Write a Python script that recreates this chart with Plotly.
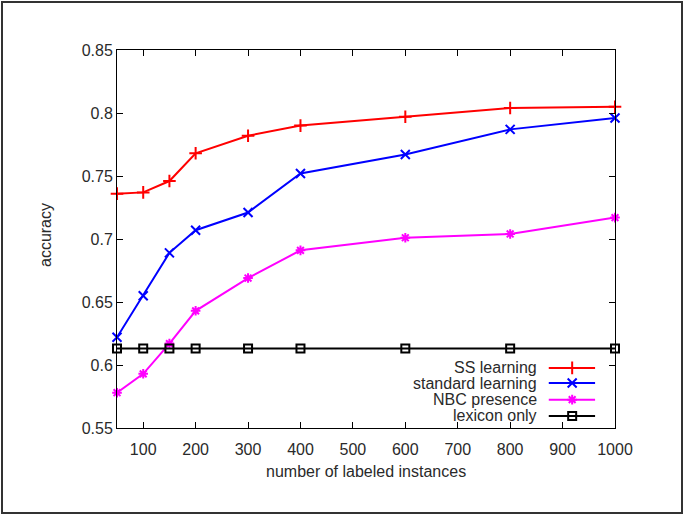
import plotly.graph_objects as go

# ---- data ----
n_labeled = [50, 100, 150, 200, 300, 400, 600, 800, 1000]
ss_learning = [0.736, 0.737, 0.746, 0.768, 0.782, 0.790, 0.797, 0.804, 0.805]
standard_learning = [0.622, 0.655, 0.689, 0.707, 0.721, 0.752, 0.767, 0.787, 0.796]
nbc_presence = [0.578, 0.593, 0.617, 0.643, 0.669, 0.691, 0.701, 0.704, 0.717]
lexicon_only = [0.613] * 9

series_names = ["SS learning", "standard learning", "NBC presence", "lexicon only"]
series_values = [ss_learning, standard_learning, nbc_presence, lexicon_only]
colors = ["#ff0000", "#0000ff", "#ff00ff", "#000000"]
symbols = ["cross-thin-open", "x-thin-open", "asterisk-open", "square-open"]
msizes = [9, 9, 8, 8]

x_ticks = [100, 200, 300, 400, 500, 600, 700, 800, 900, 1000]
y_ticks = [0.55, 0.6, 0.65, 0.7, 0.75, 0.8, 0.85]
y_ticktext = ["0.55", "0.6", "0.65", "0.7", "0.75", "0.8", "0.85"]

W, H = 685, 516
L, R, T, B = 117, 70, 50, 88
pw, ph = W - L - R, H - T - B

FONT = "Liberation Sans, Arial, sans-serif"
TXT = "#2a2a2a"

fig = go.Figure()
for name, vals, c, s, ms in zip(series_names, series_values, colors, symbols, msizes):
    fig.add_trace(go.Scatter(
        x=n_labeled, y=vals, mode="lines+markers", name=name,
        line=dict(color=c, width=2),
        marker=dict(symbol=s, size=ms, color=c, line=dict(color=c, width=2)),
        showlegend=False, cliponaxis=False,
    ))

# manual gnuplot-style legend (text left, sample right)
row_y = [0.159, 0.119, 0.075, 0.032]
tx, lx0, lx1, mx = 0.847, 0.867, 0.960, 0.914
annotations = []
shapes = []
for name, c, s, ms, ry in zip(series_names, colors, symbols, msizes, row_y):
    annotations.append(dict(x=tx, y=ry, xref="paper", yref="paper", text=name,
                            showarrow=False, xanchor="right", yanchor="middle",
                            font=dict(family=FONT, size=16, color=TXT)))
    fig.add_trace(go.Scatter(x=[lx0, lx1], y=[ry, ry], xaxis="x2", yaxis="y2",
                             mode="lines", line=dict(color=c, width=2),
                             showlegend=False, hoverinfo="skip"))
    fig.add_trace(go.Scatter(x=[mx], y=[ry], xaxis="x2", yaxis="y2",
                             mode="markers",
                             marker=dict(symbol=s, size=ms, color=c, line=dict(color=c, width=2)),
                             showlegend=False, hoverinfo="skip"))

# axis titles
annotations.append(dict(x=0.5, y=-(472 - (T + ph)) / ph, xref="paper", yref="paper",
                        text="number of labeled instances", showarrow=False,
                        xanchor="center", yanchor="middle",
                        font=dict(family=FONT, size=16, color=TXT)))
annotations.append(dict(x=(45 - L) / pw, y=(T + ph - 235) / ph, xref="paper", yref="paper",
                        text="accuracy", showarrow=False, textangle=-90,
                        xanchor="center", yanchor="middle",
                        font=dict(family=FONT, size=16, color=TXT)))

# outer frame of the image
shapes.append(dict(type="rect", xref="paper", yref="paper",
                   x0=(2 - L) / pw, x1=(W - 3 - L) / pw,
                   y0=-(H - 3 - T - ph) / ph, y1=1 + (T - 2) / ph,
                   line=dict(color="#333", width=2), fillcolor="rgba(0,0,0,0)"))

axis_font = dict(family=FONT, size=16, color=TXT)
fig.update_layout(
    width=W, height=H,
    margin=dict(l=L, r=R, t=T, b=B),
    paper_bgcolor="white", plot_bgcolor="white",
    showlegend=False,
    annotations=annotations,
    shapes=shapes,
    xaxis=dict(range=[50, 1000], tickvals=x_ticks, ticktext=[str(v) for v in x_ticks],
               ticks="inside", ticklen=6, tickcolor="black", mirror="ticks",
               showline=True, linecolor="black", linewidth=1, showgrid=False, zeroline=False,
               tickfont=axis_font, ticklabelstandoff=7),
    yaxis=dict(range=[0.55, 0.85], tickvals=y_ticks, ticktext=y_ticktext,
               ticks="inside", ticklen=6, tickcolor="black", mirror="ticks",
               showline=True, linecolor="black", linewidth=1, showgrid=False, zeroline=False,
               tickfont=axis_font),
    xaxis2=dict(range=[0, 1], overlaying="x", visible=False, fixedrange=True),
    yaxis2=dict(range=[0, 1], overlaying="y", visible=False, fixedrange=True),
)

fig.write_html("out.html", config={"displayModeBar": False},
               post_script="document.body.style.margin='0';document.body.style.overflow='hidden';")
